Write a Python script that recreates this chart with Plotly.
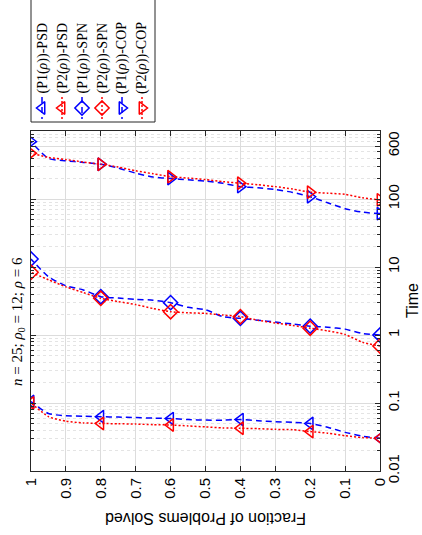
import plotly.graph_objects as go

W, H = 422, 535

# ---------------- data ----------------
fraction = [0.0, 0.05, 0.1, 0.15, 0.2, 0.25, 0.3, 0.35, 0.4, 0.45, 0.5,
            0.55, 0.6, 0.65, 0.7, 0.75, 0.8, 0.85, 0.9, 0.95, 1.0]

p1_psd = [0.0303, 0.0325, 0.037, 0.044, 0.050, 0.052, 0.053, 0.055, 0.057, 0.056, 0.056,
          0.057, 0.059, 0.060, 0.061, 0.062, 0.063, 0.064, 0.065, 0.070, 0.105]
p2_psd = [0.0303, 0.031, 0.033, 0.036, 0.038, 0.0405, 0.041, 0.042, 0.0425, 0.043, 0.0445,
          0.046, 0.0475, 0.048, 0.049, 0.0495, 0.050, 0.051, 0.054, 0.063, 0.100]
p1_spn = [1.0, 1.05, 1.22, 1.30, 1.35, 1.45, 1.55, 1.65, 1.76, 1.86, 2.35,
          2.55, 2.99, 3.25, 3.35, 3.50, 3.66, 4.6, 5.3, 7.2, 13.1]
p2_spn = [0.69, 0.78, 1.02, 1.15, 1.26, 1.38, 1.50, 1.65, 1.86, 1.97, 2.08,
          2.12, 2.20, 2.45, 2.80, 3.10, 3.47, 4.20, 5.10, 6.50, 8.36]
p1_cop = [61, 64, 72, 88, 108, 125, 138, 146, 152, 170, 183,
          192, 200, 210, 240, 285, 324, 345, 365, 395, 697]
p2_cop = [97, 104, 117, 122, 126, 140, 152, 162, 171, 180, 193,
          203, 213, 235, 260, 295, 324, 350, 380, 410, 470]

series_names = ["(P1(<i>ρ</i>))-PSD", "(P2(<i>ρ</i>))-PSD",
                "(P1(<i>ρ</i>))-SPN", "(P2(<i>ρ</i>))-SPN",
                "(P1(<i>ρ</i>))-COP", "(P2(<i>ρ</i>))-COP"]
series_values = [p1_psd, p2_psd, p1_spn, p2_spn, p1_cop, p2_cop]
series_colors = ["#0000FF", "#FF0000", "#0000FF", "#FF0000", "#0000FF", "#FF0000"]
series_dash = ["6px,4px", "2px,2px", "6px,4px", "2px,2px", "6px,4px", "2px,2px"]
series_symbol = ["triangle-left-open", "triangle-left-open", "diamond-open",
                 "diamond-open", "triangle-right-open", "triangle-right-open"]

time_ticks = [0.01, 0.1, 1, 10, 100, 600]
time_ticktext = ["0.01", "0.1", "1", "10", "100", "600"]
frac_ticks = [0, 0.1, 0.2, 0.3, 0.4, 0.5, 0.6, 0.7, 0.8, 0.9, 1]
frac_ticktext = ["0", "0.1", "0.2", "0.3", "0.4", "0.5", "0.6", "0.7", "0.8", "0.9", "1"]

# -------------- figure ----------------
fig = go.Figure()

for name, vals, col, dash, sym in zip(series_names, series_values, series_colors,
                                      series_dash, series_symbol):
    fig.add_trace(go.Scatter(x=fraction, y=vals, mode="lines",
                             line=dict(color=col, width=1.5, dash=dash, shape="spline",
                                       smoothing=0.6),
                             showlegend=False, xaxis="x", yaxis="y", hoverinfo="skip"))
    fig.add_trace(go.Scatter(x=fraction[::4], y=vals[::4], mode="markers",
                             marker=dict(symbol=sym, size=11, color=col,
                                         line=dict(color=col, width=1.5)),
                             showlegend=False, xaxis="x", yaxis="y", hoverinfo="skip"))

# legend glyphs on a pixel-coordinate overlay axis
LX0, LDX = 42, 20
for i, (name, col, dash, sym) in enumerate(zip(series_names, series_colors,
                                               series_dash, series_symbol)):
    lx = LX0 + LDX * i
    fig.add_trace(go.Scatter(x=[lx, lx], y=[97, 119], mode="lines",
                             line=dict(color=col, width=1.5, dash=dash),
                             showlegend=False, xaxis="x2", yaxis="y2", hoverinfo="skip"))
    fig.add_trace(go.Scatter(x=[lx], y=[108], mode="markers",
                             marker=dict(symbol=sym, size=11, color=col,
                                         line=dict(color=col, width=1.5)),
                             showlegend=False, xaxis="x2", yaxis="y2", hoverinfo="skip"))
    fig.add_annotation(x=lx, y=96, xref="x2", yref="y2", text=name, showarrow=False,
                       textangle=-90, xanchor="center", yanchor="bottom",
                       font=dict(family="Liberation Serif", size=14, color="black"))

fig.add_shape(type="rect", xref="x2", yref="y2", x0=31, x1=155, y0=-5, y1=122,
              line=dict(color="#262626", width=1), fillcolor="rgba(0,0,0,0)")

axis_line = "#262626"
fig.update_layout(
    width=W, height=H,
    margin=dict(l=0, r=0, t=0, b=0, autoexpand=False),
    paper_bgcolor="white", plot_bgcolor="rgba(0,0,0,0)",
    font=dict(family="Liberation Sans", size=15, color="black"),
    xaxis=dict(domain=[31 / W, 380 / W], range=[1, 0], anchor="y",
               tickmode="array", tickvals=frac_ticks, ticktext=frac_ticktext,
               tickangle=-90,
               ticks="inside", ticklen=5, tickcolor=axis_line,
               showline=True, linecolor=axis_line, linewidth=1, mirror="ticks",
               showgrid=True, gridcolor="#dcdcdc", gridwidth=1, zeroline=False,
               tickfont=dict(size=15)),
    yaxis=dict(domain=[64 / H, 404 / H], type="log", range=[-2, 3], anchor="x",
               side="right", tickmode="array", tickvals=time_ticks,
               ticktext=time_ticktext,
               tickangle=-90, ticks="inside", ticklen=5, tickcolor=axis_line,
               showline=True, linecolor=axis_line, linewidth=1, mirror="ticks",
               showgrid=True, gridcolor="#dcdcdc", gridwidth=1, zeroline=False,
               tickfont=dict(size=15),
               minor=dict(dtick="D1", showgrid=True, griddash="dot",
                          gridcolor="#e4e4e4", gridwidth=1, ticks="inside",
                          ticklen=3, tickcolor=axis_line)),
    xaxis2=dict(domain=[0, 1], range=[0, W], anchor="y2", visible=False,
                fixedrange=True),
    yaxis2=dict(domain=[0, 1], range=[H, 0], anchor="x2", visible=False,
                fixedrange=True),
)

# title and axis titles (rotated like the reference)
fig.add_annotation(x=18 / W, y=1 - 322 / H, xref="paper", yref="paper",
                   text="<i>n</i> = 25; <i>ρ</i><sub>0</sub> = 12; <i>ρ</i> = 6",
                   showarrow=False, textangle=-90, xanchor="center", yanchor="middle",
                   font=dict(family="Liberation Serif", size=15, color="black"))
fig.add_annotation(x=412 / W, y=1 - 301 / H, xref="paper", yref="paper", text="Time",
                   showarrow=False, textangle=-90, xanchor="center", yanchor="middle",
                   font=dict(family="Liberation Sans", size=16, color="black"))
fig.add_annotation(x=206 / W, y=1 - 519 / H, xref="paper", yref="paper",
                   text="Fraction of Problems Solved",
                   showarrow=False, textangle=180, xanchor="center", yanchor="middle",
                   font=dict(family="Liberation Sans", size=16, color="black"))

fig.write_html("out.html",
               config={"displayModeBar": False},
               post_script="document.body.style.margin='0';"
                           "document.body.style.overflow='hidden';")
